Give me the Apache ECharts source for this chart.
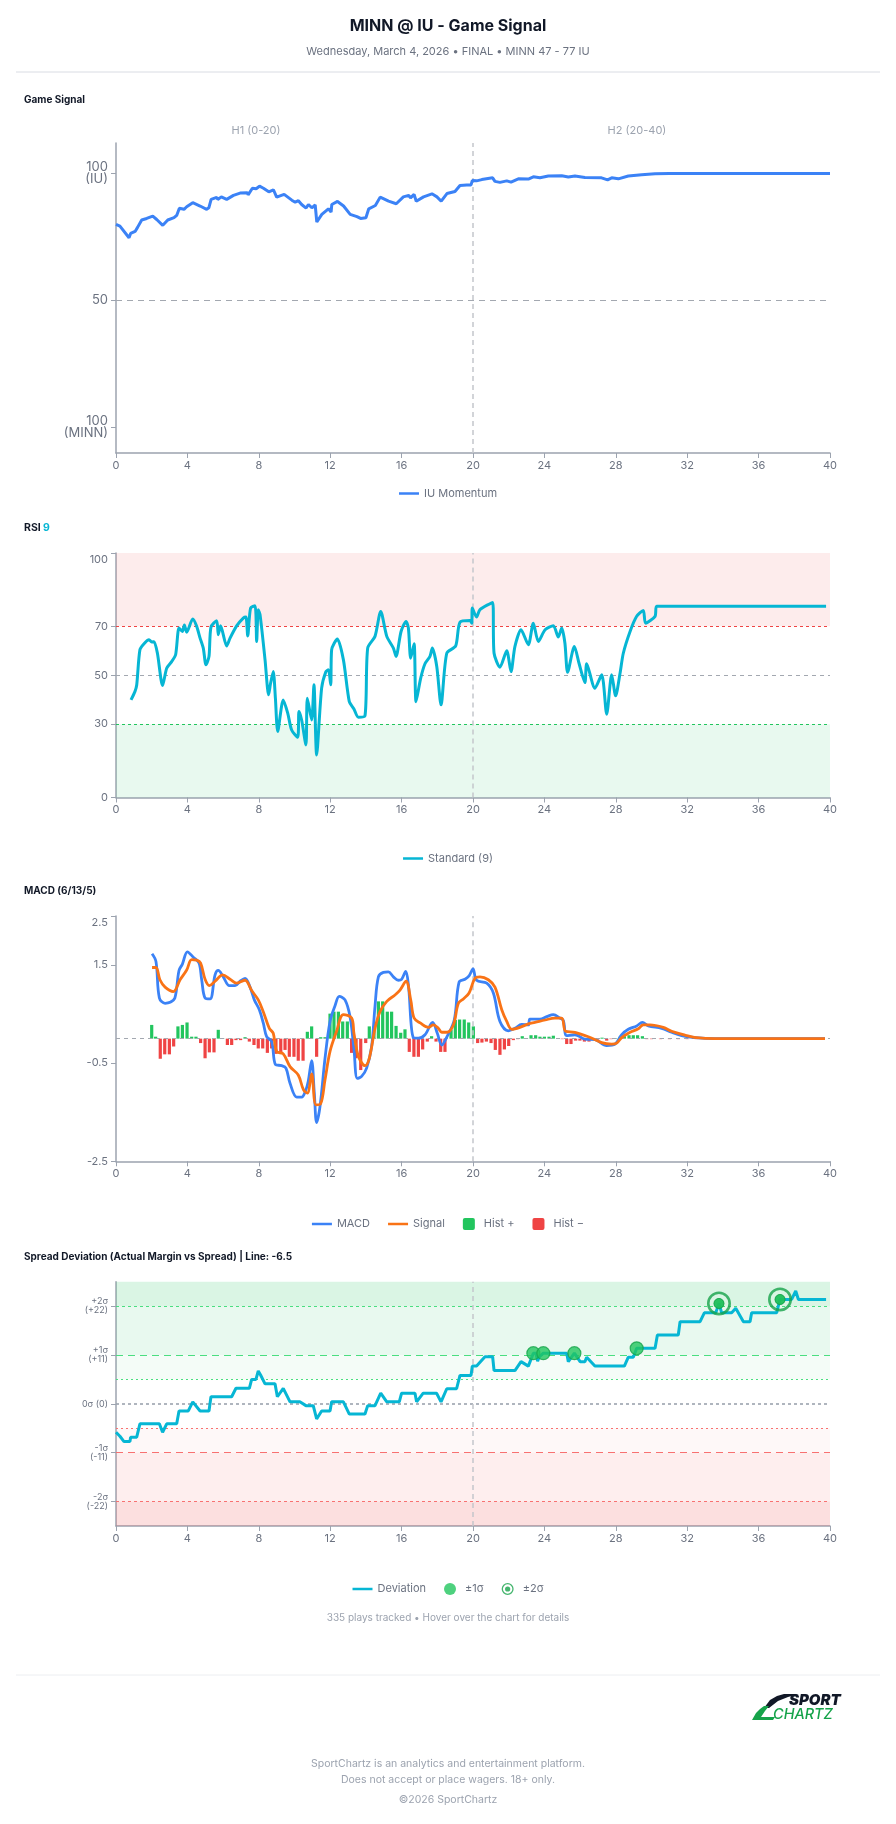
<!DOCTYPE html>
<html><head><meta charset="utf-8">
<script src="https://cdn.jsdelivr.net/npm/echarts@6/dist/echarts.min.js"></script>
<style>html,body{margin:0;padding:0;background:#fff}#c{width:896px;height:1824px}</style>
</head><body><div id="c"></div>
<script>
// ---------- DATA ----------
const gsTickValues = [0, 50, 100];
const gsTickLabels = ['100\n(MINN)', '50', '100\n(IU)'];
const rsiTickValues = [0, 30, 50, 70, 100];
const macdTickValues = [-2.5, -0.5, 1.5, 2.5];
const spreadTickValues = [-22, -11, 0, 11, 22];
const spreadTickLabels = ['-2σ\n(-22)', '-1σ\n(-11)', '0σ (0)', '+1σ\n(+11)', '+2σ\n(+22)'];

// Game signal [minute, value]
const gameSignal = [[0,80],[0.22,79.3],[0.73,74.7],[0.82,76.4],[1.07,77.2],[1.2,78.7],[1.44,81.7],[1.72,82.3],[2.06,83.2],[2.28,81.9],[2.62,79.6],[2.9,81.7],[3.25,82.6],[3.4,83.5],[3.55,86.3],[3.81,85.9],[3.96,86.9],[4.3,88.5],[4.71,87.2],[5.08,85.9],[5.2,86.5],[5.33,89.8],[5.64,90.6],[5.7,89.8],[5.9,90.8],[6.2,89.8],[6.58,91.4],[6.95,92.3],[7.36,92.4],[7.4,91.6],[7.64,94.2],[7.85,94],[8.04,95],[8.26,94.2],[8.56,92.8],[8.82,93.6],[9.0,90.7],[9.42,91.8],[9.85,89.5],[10.04,88.7],[10.22,89.3],[10.4,87.8],[10.65,86.4],[10.78,87.8],[10.97,86.5],[11.16,87.6],[11.25,80.9],[11.53,83.9],[11.9,86.1],[12.05,84.8],[12.09,87.8],[12.41,89],[12.75,87.2],[13.12,83.9],[13.5,83],[13.7,82.3],[14.0,82.6],[14.16,86.1],[14.53,87.4],[14.8,90.7],[15.27,89.1],[15.7,88.1],[16.1,90.8],[16.4,91.4],[16.5,90.4],[16.7,91.8],[16.82,89.1],[17.23,90.8],[17.7,92],[17.98,90.8],[18.22,89.1],[18.54,92.1],[18.99,92.9],[19.27,95.3],[19.65,95.5],[19.89,95.5],[19.96,97.2],[20.2,97.1],[20.49,97.6],[21.1,98.3],[21.23,96.9],[21.51,96.5],[21.89,97.1],[22.13,96.6],[22.54,97.9],[23.1,97.8],[23.38,98.7],[23.75,98.3],[24.22,99],[24.97,99.1],[25.34,98.6],[25.71,99],[26.27,98.4],[27.2,98.3],[27.54,97.5],[27.77,98.3],[28.14,97.9],[28.7,99],[29.45,99.5],[30.2,99.9],[31,100],[40,100]];

// RSI(9) [minute, value]
const rsi = [[0.84,39.9],[1.06,43.3],[1.16,46],[1.34,60.4],[1.57,62.9],[1.85,64.5],[2.0,63.6],[2.13,63.7],[2.32,59],[2.61,45.8],[2.84,52.9],[3.12,55.6],[3.34,58.4],[3.53,69.3],[3.72,67.9],[3.83,70.6],[3.96,67.6],[4.3,73],[4.52,70],[4.71,65.2],[4.89,61.1],[5.04,54.3],[5.21,57.7],[5.32,69.7],[5.64,72.3],[5.73,66.6],[5.86,70.2],[6.2,62],[6.39,65.2],[6.76,70.2],[7.13,73.4],[7.28,73.8],[7.38,66.1],[7.54,77.5],[7.79,78.4],[7.88,63.8],[7.97,76.8],[8.07,74.8],[8.35,56.3],[8.55,42],[8.66,46.7],[8.81,51.5],[8.93,40.6],[9.06,27],[9.37,39.9],[9.62,34.5],[9.84,27.6],[10.18,24.6],[10.25,35.2],[10.4,31.7],[10.64,21.5],[10.72,40.6],[10.96,31.7],[11.09,46.1],[11.24,17.4],[11.52,44.7],[11.76,51.5],[11.9,52.2],[12.03,46.1],[12.08,60.4],[12.4,64.8],[12.74,56.3],[13.07,39.2],[13.33,36.2],[13.58,32.8],[13.95,33.4],[14.1,61.1],[14.51,65.9],[14.83,76.1],[15.17,65.9],[15.54,61.1],[15.69,57.7],[15.97,67.9],[16.25,72],[16.38,69.3],[16.51,57],[16.7,62.9],[16.81,39.2],[17.07,48.8],[17.31,54.7],[17.59,57.7],[17.72,61.1],[17.97,53.6],[18.21,37.9],[18.53,59],[19.03,62],[19.27,71.7],[19.83,72.4],[19.93,71.3],[19.96,77.5],[20.2,73.8],[20.39,76.8],[21.1,79.8],[21.18,59],[21.51,53.3],[21.89,60],[22.13,51.5],[22.35,61.8],[22.69,68.6],[23.1,62.5],[23.38,71.3],[23.66,63.8],[24.04,68.6],[24.5,70.2],[24.78,65.6],[24.97,69.3],[25.15,63.1],[25.3,51.2],[25.68,61.8],[25.94,54.9],[26.27,47],[26.37,54.7],[26.83,44.7],[27.21,50.2],[27.49,34.1],[27.77,50.2],[27.99,41.6],[28.24,50.9],[28.42,59],[28.8,67.9],[29.17,74.1],[29.54,76.5],[29.67,71.3],[30.2,74.1],[30.29,78.2],[39.78,78.2]];

// MACD (6/13/5) [minute, value]
const macdLine = [[2.02,1.73],[2.24,1.57],[2.43,0.83],[2.75,0.72],[3.03,0.74],[3.3,0.83],[3.53,1.39],[3.72,1.52],[4.0,1.77],[4.33,1.66],[4.65,1.54],[4.8,1.2],[4.99,0.83],[5.27,0.81],[5.55,1.3],[5.73,1.39],[6.01,1.26],[6.35,1.08],[6.67,1.08],[6.95,1.17],[7.23,1.23],[7.51,1.05],[7.75,0.79],[8.03,0.59],[8.25,0.32],[8.44,0.04],[8.72,-0.06],[8.94,-0.53],[9.28,-0.55],[9.52,-0.6],[9.75,-0.91],[10.12,-1.19],[10.4,-1.19],[10.64,-1.04],[10.77,-0.87],[10.96,-0.45],[11.11,-1.11],[11.24,-1.71],[11.43,-1.38],[11.71,-0.4],[11.99,0.35],[12.27,0.67],[12.51,0.86],[12.83,0.79],[13.11,0.45],[13.33,-0.21],[13.52,-0.81],[13.76,-0.77],[14.04,-0.6],[14.32,-0.16],[14.51,0.66],[14.7,1.26],[14.98,1.35],[15.26,1.36],[15.54,1.26],[15.82,1.19],[16.0,1.21],[16.23,1.37],[16.38,1.1],[16.66,0.02],[16.94,0.01],[17.31,0.08],[17.74,0.33],[18.0,0.11],[18.25,-0.13],[18.53,0.03],[18.95,0.38],[19.22,1.15],[19.55,1.21],[19.78,1.28],[20.0,1.42],[20.2,1.19],[20.77,1.13],[21.14,0.93],[21.51,0.35],[21.98,0.16],[22.35,0.21],[22.73,0.29],[23.1,0.28],[23.19,0.4],[23.75,0.4],[24.13,0.45],[24.5,0.49],[24.87,0.42],[25.06,0.37],[25.25,0.06],[25.71,0.08],[26.27,-0.01],[26.83,-0.02],[27.49,-0.14],[27.96,-0.11],[28.33,0.08],[28.7,0.19],[29.17,0.26],[29.49,0.33],[29.82,0.26],[30.57,0.21],[31.13,0.13],[31.69,0.06],[32.44,0.02],[33.56,0],[39.72,0]];
const signalLine = [[2.02,1.45],[2.24,1.45],[2.46,1.2],[2.75,1.05],[3.21,0.96],[3.59,1.2],[3.96,1.4],[4.24,1.61],[4.52,1.6],[4.74,1.54],[4.99,1.21],[5.23,1.08],[5.55,1.17],[5.98,1.3],[6.39,1.21],[6.76,1.13],[7.23,1.19],[7.6,0.98],[7.97,0.79],[8.25,0.55],[8.59,0.21],[8.81,0.11],[9.0,-0.26],[9.37,-0.31],[9.75,-0.57],[10.21,-0.74],[10.5,-1.04],[10.72,-1.11],[10.96,-0.72],[11.2,-1.35],[11.46,-1.33],[11.71,-0.84],[11.99,-0.26],[12.36,0.15],[12.74,0.49],[13.2,0.42],[13.33,0.11],[13.58,-0.36],[13.95,-0.55],[14.19,-0.4],[14.51,0.21],[14.79,0.55],[15.17,0.76],[15.63,0.89],[15.91,0.99],[16.25,1.17],[16.51,0.79],[16.7,0.42],[17.04,0.32],[17.5,0.23],[17.78,0.28],[18.06,0.21],[18.25,0.13],[18.53,0.13],[18.9,0.28],[19.18,0.72],[19.46,0.81],[19.78,0.93],[20.11,1.23],[20.39,1.26],[20.86,1.2],[21.23,1.05],[21.61,0.59],[21.89,0.35],[22.17,0.19],[22.63,0.23],[23.1,0.3],[23.47,0.33],[24.04,0.38],[24.59,0.42],[24.97,0.42],[25.19,0.15],[25.71,0.13],[26.46,0.04],[27.21,-0.08],[27.77,-0.11],[28.05,-0.09],[28.33,0.02],[28.8,0.13],[29.26,0.2],[29.54,0.28],[29.91,0.28],[30.66,0.23],[31.13,0.15],[31.78,0.08],[32.53,0.02],[33.56,0],[39.72,0]];
const macdHist = [[2.0,0.28],[2.22,0.04],[2.48,-0.41],[2.73,-0.32],[2.99,-0.32],[3.23,-0.16],[3.47,0.25],[3.72,0.28],[3.98,0.33],[4.24,0.04],[4.48,0.04],[4.74,-0.09],[4.99,-0.4],[5.23,-0.28],[5.49,-0.28],[5.73,0.18],[5.98,0.01],[6.24,-0.13],[6.48,-0.13],[6.72,-0.03],[6.98,-0.03],[7.23,0.03],[7.47,-0.06],[7.73,-0.13],[7.97,-0.2],[8.22,-0.2],[8.48,-0.29],[8.72,-0.2],[8.96,-0.31],[9.23,-0.31],[9.47,-0.23],[9.71,-0.37],[9.97,-0.37],[10.21,-0.45],[10.48,-0.45],[10.72,0.14],[10.96,0.25],[11.24,-0.37],[11.47,0.03],[11.71,0.03],[11.99,0.51],[12.21,0.55],[12.46,0.55],[12.7,0.35],[12.96,0.35],[13.2,-0.29],[13.45,-0.4],[13.71,-0.64],[13.99,-0.09],[14.19,0.25],[14.45,0.25],[14.7,0.76],[14.94,0.76],[15.2,0.55],[15.44,0.55],[15.69,0.26],[15.95,0.12],[16.19,0.19],[16.43,-0.27],[16.69,-0.37],[16.94,-0.37],[17.18,-0.22],[17.44,-0.06],[17.68,0.05],[17.93,-0.06],[18.19,-0.27],[18.43,-0.27],[18.77,0.18],[19.01,0.38],[19.25,0.39],[19.51,0.39],[19.76,0.33],[20.02,0.25],[20.26,-0.09],[20.5,-0.08],[20.75,-0.06],[21.01,-0.09],[21.25,-0.23],[21.51,-0.33],[21.76,-0.22],[22.0,-0.15],[22.26,-0.03],[22.5,-0.01],[22.76,0.05],[23.0,0.01],[23.25,0.07],[23.51,0.07],[23.75,0.04],[24.0,0.04],[24.26,0.04],[24.5,0.06],[24.74,0.01],[25.0,-0.01],[25.25,-0.11],[25.49,-0.11],[25.75,-0.04],[25.99,-0.04],[26.24,-0.06],[26.5,-0.06],[26.74,-0.02],[26.98,-0.02],[27.23,0.02],[27.49,-0.04],[27.73,-0.01],[27.99,0.01],[28.24,0.04],[28.48,0.05],[28.74,0.07],[28.98,0.07],[29.22,0.07],[29.49,0.05],[29.74,-0.01],[30.0,-0.01],[30.5,-0.01],[31.0,-0.01],[31.5,-0.01],[32.0,-0.01],[32.5,-0.01]];

// Spread deviation (points vs line) [minute, value]
const deviation = [[0,-6.4],[0.22,-7.3],[0.45,-8.5],[0.78,-8.5],[0.82,-7.5],[1.16,-7.5],[1.34,-4.5],[2.43,-4.5],[2.61,-6.4],[2.84,-4.5],[3.4,-4.5],[3.53,-1.6],[4.05,-1.6],[4.3,0.45],[4.71,-1.6],[5.21,-1.6],[5.32,1.6],[6.48,1.6],[6.72,3.5],[7.47,3.5],[7.6,5.5],[7.84,5.5],[7.97,7.4],[8.1,6.5],[8.35,4.5],[8.91,4.5],[9.04,1.6],[9.37,3.5],[9.75,0.45],[10.3,0.45],[10.64,-0.4],[11.05,-0.4],[11.24,-3.4],[11.52,-1.6],[11.99,-1.6],[12.08,0.45],[12.74,0.45],[13.07,-2.3],[13.95,-2.3],[14.1,-0.4],[14.51,-0.4],[14.83,2.4],[15.17,0.45],[15.87,0.45],[16.0,2.4],[16.75,2.4],[16.84,0.45],[17.21,2.4],[17.96,2.4],[18.21,0.45],[18.53,3.4],[19.08,3.4],[19.27,6.4],[19.89,6.4],[19.96,8.5],[20.2,8.5],[20.67,10.6],[21.1,10.6],[21.18,7.5],[22.35,7.5],[22.69,9.5],[23.1,8.5],[23.38,11.4],[23.52,11.4],[23.62,9.6],[23.7,10.5],[23.94,11.4],[25.25,11.4],[25.34,9.5],[25.68,11.4],[26.0,9.5],[26.27,9.5],[26.37,10.5],[26.83,8.5],[28.48,8.5],[28.7,10.5],[28.98,10.5],[29.17,12.5],[30.2,12.5],[30.33,15.5],[31.5,15.5],[31.6,18.5],[32.72,18.5],[32.96,20.5],[33.6,20.5],[33.78,22.6],[33.93,20.5],[34.49,20.5],[34.72,21.5],[35.15,18.5],[35.52,18.5],[35.61,20.5],[37.01,20.5],[37.2,23.5],[37.85,23.5],[38.08,25.4],[38.23,23.5],[39.78,23.5]];
const sigma1Hits = [[23.38,11.4],[23.94,11.4],[25.68,11.4],[29.17,12.5]];
const sigma2Hits = [[33.78,22.6],[37.2,23.5]];

// ---------- STYLE ----------
const F = 'Inter, "Noto Sans", sans-serif';
const AX = '#9ca3af', LAB = '#6b7280';
const BLUE = '#3b82f6', CYAN = '#06b6d4', ORANGE = '#f97316', GREEN = '#22c55e', DGREEN = '#16a34a', RED = '#ef4444';
const ringPath = 'path://M12,1A11,11 0 1,1 12,23A11,11 0 1,1 12,1Z M12,3.4A8.6,8.6 0 1,0 12,20.6A8.6,8.6 0 1,0 12,3.4Z M12,7.2A4.8,4.8 0 1,1 12,16.8A4.8,4.8 0 1,1 12,7.2Z';
const squarePath = 'path://M2,0L10,0Q12,0 12,2L12,10Q12,12 10,12L2,12Q0,12 0,10L0,2Q0,0 2,0Z';
const linePath = 'path://M0,0L24,0L24,3L0,3Z';

function xAx(i) {
  return { type: 'value', gridIndex: i, min: 0, max: 40, interval: 4,
    axisLine: { show: true, onZero: false, lineStyle: { color: AX, width: 1.5 } },
    axisTick: { show: true, length: 5, lineStyle: { color: AX } },
    axisLabel: { color: LAB, fontSize: 11, fontFamily: F, margin: 7 },
    splitLine: { show: false } };
}
function yAx(i, min, max, vals, fmt, fs, lh) {
  return { type: 'value', gridIndex: i, min, max,
    axisLine: { show: true, lineStyle: { color: AX, width: 1.5 } },
    axisTick: { show: true, length: 5, customValues: vals, lineStyle: { color: AX } },
    axisLabel: { customValues: vals, formatter: fmt, color: LAB, fontSize: fs, lineHeight: lh, fontFamily: F, margin: 8,
      rich: { top: { color: LAB, fontSize: fs, fontFamily: F, padding: [13, 0, 0, 0] } } },
    splitLine: { show: false } };
}
function leg(top, data) {
  return { top, left: 'center', data, itemWidth: 20, itemHeight: 12, itemGap: 18, selectedMode: false,
    textStyle: { color: LAB, fontSize: 11, fontFamily: F } };
}
const vLine = { xAxis: 20, lineStyle: { color: '#c3c6cc', type: [5, 4], width: 1.5 } };
function hLine(y, color, dash, w) { return { yAxis: y, lineStyle: { color, type: dash, width: w || 1 } }; }
function area(a, b, c) { return [{ yAxis: a, itemStyle: { color: c } }, { yAxis: b }]; }
const ML = { symbol: 'none', silent: true, label: { show: false } };

function txt(x, y, text, font, fill, align) {
  return { type: 'text', x, y, silent: true,
    style: { text, font, fill, align: align || 'left', verticalAlign: 'middle' } };
}
function poly(points, fill) {
  return { type: 'polygon', silent: true, shape: { points, smooth: 0 }, style: { fill } };
}

const option = {
  animation: false,
  backgroundColor: '#fff',
  grid: [
    { left: 116, right: 66, top: 143, height: 310, containLabel: false, outerBoundsMode: 'none' },
    { left: 116, right: 66, top: 553, height: 244.5, containLabel: false, outerBoundsMode: 'none' },
    { left: 116, right: 66, top: 916, height: 245.3, containLabel: false, outerBoundsMode: 'none' },
    { left: 116, right: 66, top: 1281.7, height: 244.3, containLabel: false, outerBoundsMode: 'none' }
  ],
  xAxis: [xAx(0), xAx(1), xAx(2), xAx(3)],
  yAxis: [
    yAx(0, -10, 112, gsTickValues, v => gsTickLabels[gsTickValues.indexOf(v)] || '', 13, 12),
    yAx(1, 0, 100, rsiTickValues, v => v === 100 ? '{top|100}' : String(v), 11, 12),
    yAx(2, -2.5, 2.5, macdTickValues, v => v === 2.5 ? '{top|2.5}' : String(v), 11, 12),
    yAx(3, -27.5, 27.5, spreadTickValues, v => spreadTickLabels[spreadTickValues.indexOf(v)] || '', 9, 9)
  ],
  legend: [
    leg(483, [{ name: 'IU Momentum', icon: linePath }]),
    leg(848, [{ name: 'Standard (9)', icon: linePath }]),
    leg(1213, [{ name: 'MACD', icon: linePath }, { name: 'Signal', icon: linePath }, { name: 'Hist +', icon: squarePath }, { name: 'Hist −', icon: squarePath }]),
    leg(1578, [{ name: 'Deviation', icon: linePath }, { name: '±1σ', icon: 'circle', itemStyle: { borderWidth: 0 } }, { name: '±2σ', icon: ringPath }])
  ],
  series: [
    { name: 'IU Momentum', type: 'line', xAxisIndex: 0, yAxisIndex: 0, data: gameSignal,
      symbol: 'none', showSymbol: false, color: BLUE, lineStyle: { width: 3, color: BLUE }, z: 5,
      markLine: Object.assign({}, ML, { data: [hLine(50, '#a3a8b0', [6, 5], 1.2), vLine] }) },
    { name: 'Standard (9)', type: 'line', xAxisIndex: 1, yAxisIndex: 1, data: rsi, smooth: 0.25,
      symbol: 'none', showSymbol: false, color: CYAN, lineStyle: { width: 3, color: CYAN }, z: 5,
      markLine: Object.assign({}, ML, { data: [hLine(70, RED, [3, 3]), hLine(50, '#a3a8b0', [4, 4]), hLine(30, GREEN, [3, 3]), vLine] }),
      markArea: { silent: true, data: [area(70, 100, 'rgba(239,68,68,0.10)'), area(0, 30, 'rgba(34,197,94,0.10)')] } },
    { name: 'Hist +', type: 'bar', xAxisIndex: 2, yAxisIndex: 2, barWidth: 3.2, barGap: '-100%', color: GREEN,
      data: macdHist.filter(d => d[1] >= 0), z: 3 },
    { name: 'Hist −', type: 'bar', xAxisIndex: 2, yAxisIndex: 2, barWidth: 3.2, barGap: '-100%', color: RED,
      data: macdHist.filter(d => d[1] < 0), z: 3 },
    { name: 'MACD', type: 'line', xAxisIndex: 2, yAxisIndex: 2, data: macdLine, smooth: 0.35,
      symbol: 'none', showSymbol: false, color: BLUE, lineStyle: { width: 2.8, color: BLUE }, z: 5,
      markLine: Object.assign({}, ML, { data: [hLine(0, '#a3a8b0', [4, 4]), vLine] }) },
    { name: 'Signal', type: 'line', xAxisIndex: 2, yAxisIndex: 2, data: signalLine, smooth: 0.35,
      symbol: 'none', showSymbol: false, color: ORANGE, lineStyle: { width: 2.8, color: ORANGE }, z: 6 },
    { name: 'Deviation', type: 'line', xAxisIndex: 3, yAxisIndex: 3, data: deviation,
      symbol: 'none', showSymbol: false, color: CYAN, lineStyle: { width: 3, color: CYAN }, z: 5,
      markLine: Object.assign({}, ML, { data: [
        hLine(22, '#4ade80', [3, 3]), hLine(11, '#4ade80', [7, 5]), hLine(5.5, '#4ade80', [2, 3]),
        hLine(0, '#9ca3af', [3, 3], 1.6),
        hLine(-5.5, '#f87171', [2, 3]), hLine(-11, '#f87171', [7, 5]), hLine(-22, '#f87171', [3, 3]), vLine] }),
      markArea: { silent: true, data: [
        area(22, 27.5, 'rgba(34,197,94,0.17)'), area(11, 22, 'rgba(34,197,94,0.10)'), area(5.5, 11, 'rgba(34,197,94,0.05)'),
        area(-11, -5.5, 'rgba(239,68,68,0.04)'), area(-22, -11, 'rgba(239,68,68,0.09)'), area(-27.5, -22, 'rgba(239,68,68,0.17)')] } },
    { name: '±1σ', type: 'scatter', xAxisIndex: 3, yAxisIndex: 3, data: sigma1Hits, symbol: 'circle', symbolSize: 13,
      color: GREEN, itemStyle: { color: GREEN, borderColor: DGREEN, borderWidth: 1.2 }, z: 8 },
    { name: '±2σ', type: 'scatter', xAxisIndex: 3, yAxisIndex: 3, data: sigma2Hits, symbol: ringPath, symbolSize: 24,
      color: DGREEN, itemStyle: { color: DGREEN }, z: 8 },
    { name: '', type: 'scatter', xAxisIndex: 3, yAxisIndex: 3, data: sigma2Hits, symbol: 'circle', symbolSize: 10,
      itemStyle: { color: GREEN, borderColor: DGREEN, borderWidth: 1 }, z: 9 }
  ],
  graphic: [
    txt(448, 26, 'MINN @ IU - Game Signal', 'bold 16px ' + F, '#111827', 'center'),
    txt(448, 52, 'Wednesday, March 4, 2026 • FINAL • MINN 47 - 77 IU', '11px ' + F, '#6b7280', 'center'),
    { type: 'line', silent: true, shape: { x1: 16, y1: 72, x2: 880, y2: 72 }, style: { stroke: '#d9dce3', lineWidth: 1 } },
    txt(24, 99.5, 'Game Signal', 'bold 10px ' + F, '#111827'),
    txt(256, 131, 'H1 (0-20)', '11px ' + F, '#9ca3af', 'center'),
    txt(637, 131, 'H2 (20-40)', '11px ' + F, '#9ca3af', 'center'),
    txt(24, 527.5, 'RSI', 'bold 10.5px ' + F, '#111827'),
    txt(43, 527.5, '9', 'bold 10.5px ' + F, CYAN),
    txt(24, 891, 'MACD (6/13/5)', 'bold 10px ' + F, '#111827'),
    txt(24, 1257, 'Spread Deviation (Actual Margin vs Spread) | Line: -6.5', 'bold 10px ' + F, '#111827'),
    txt(448, 1618, '335 plays tracked • Hover over the chart for details', '10px ' + F, '#9ca3af', 'center'),
    { type: 'line', silent: true, shape: { x1: 16, y1: 1675, x2: 880, y2: 1675 }, style: { stroke: '#eceef1', lineWidth: 1 } },
    poly([[784,1694],[799,1694],[788,1697],[778,1701],[769,1708],[764,1708],[770,1700],[777,1696]], '#111827'),
    poly([[764,1706],[769,1706],[765,1711],[761,1717],[775,1717],[773,1720],[752,1720],[756,1713],[760,1709]], DGREEN),
    txt(789, 1700, 'SPORT', 'italic 900 15px ' + F, '#111827'),
    txt(773, 1714.5, 'CHARTZ', 'italic 500 14.5px ' + F, DGREEN),
    txt(448, 1764, 'SportChartz is an analytics and entertainment platform.', '10.5px ' + F, '#9ca3af', 'center'),
    txt(448, 1780, 'Does not accept or place wagers. 18+ only.', '10.5px ' + F, '#9ca3af', 'center'),
    txt(448, 1800, '©2026 SportChartz', '10.5px ' + F, '#9ca3af', 'center')
  ]
};

const chart = echarts.init(document.getElementById('c'), null, { renderer: 'canvas', width: 896, height: 1824 });
chart.setOption(option);
</script>
</body></html>
